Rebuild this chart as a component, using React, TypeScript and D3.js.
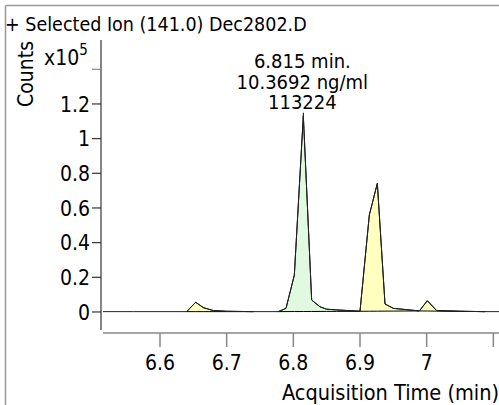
import React from 'react';
import * as d3 from 'd3';

// chromatogram trace, time in min, abundance in counts
const times = [6.5145, 6.56, 6.6, 6.64, 6.6535, 6.665, 6.68, 6.7, 6.74, 6.7775, 6.789, 6.8015, 6.815, 6.8275, 6.84, 6.85, 6.865, 6.9, 6.914, 6.926, 6.9375, 6.95, 6.989, 7.001, 7.015, 7.05, 7.0875, 7.1085];
const counts = [200, 200, 200, 200, 5600, 2500, 800, 400, 200, 200, 2100, 21300, 113224, 6900, 3000, 1600, 1200, 400, 56000, 74200, 4600, 2100, 600, 6500, 800, 400, 200, 200];

// integrated peaks [start, end]
const peakStarts = [6.64, 6.7775, 6.9, 6.989];
const peakEnds = [6.74, 6.9, 6.989, 7.0875];
const peakKinds = ['other', 'target', 'other', 'other'];

const xTicks = [6.6, 6.7, 6.8, 6.9, 7, 7.1];
const xTickLabels = ['6.6', '6.7', '6.8', '6.9', '7', ''];
const yTicks = [0, 0.2, 0.4, 0.6, 0.8, 1, 1.2, 1.4];
const yTickLabels = ['0', '0.2', '0.4', '0.6', '0.8', '1', '1.2', ''];

const title = '+ Selected Ion (141.0) Dec2802.D';
const apexTime = 6.815;
const apexCounts = 113224;
const apexLabels = ['6.815 min.', '10.3692 ng/ml', '113224'];

const fills: Record<string, string> = { target: '#e0f9e0', other: '#ffffc0' };
const font = "'DejaVu Sans Condensed', 'DejaVu Sans', sans-serif";

export default function App() {
    const width = 499;
    const height = 405;
    const x = d3.scaleLinear().domain([6.5145, 7.1085]).range([103, 499]);
    const y = d3.scaleLinear().domain([-0.104, 1.569]).range([330, 40]);

    const pts = times.map((t, i) => [t, counts[i] / 1e5] as [number, number]);
    const line = d3.line<[number, number]>().x(d => x(d[0])).y(d => y(d[1]));

    const peaks = peakStarts.map((s, i) => {
        const e = peakEnds[i];
        const seg = pts.filter(p => p[0] >= s - 1e-9 && p[0] <= e + 1e-9);
        const v0 = seg[0][1];
        const v1 = seg[seg.length - 1][1];
        const base = (t: number) => v0 + (v1 - v0) * (t - s) / (e - s);
        const area = d3.area<[number, number]>()
            .x(d => x(d[0]))
            .y0(d => y(base(d[0])))
            .y1(d => y(d[1]));
        return { d: area(seg) as string, kind: peakKinds[i] };
    });

    return (
        <svg width={width} height={height} style={{ position: 'absolute', left: 0, top: 0, fontFamily: font }}>
            <rect width={width} height={height} fill="#fff" />
            {/* frame */}
            <line x1={5.5} x2={width} y1={5.5} y2={5.5} stroke="#999" strokeWidth={1.5} />
            <line x1={5.5} x2={5.5} y1={5.5} y2={height} stroke="#999" strokeWidth={1.5} />

            <text x={5} y={31} fontSize={19.5}>{title}</text>

            {/* y axis */}
            <line x1={101} x2={101} y1={40} y2={330} stroke="#333" strokeWidth={1.2} />
            {yTicks.map((t, i) => (
                <g key={t}>
                    <line x1={92} x2={101} y1={y(t)} y2={y(t)} stroke={i === yTicks.length - 1 ? '#888' : '#333'} strokeWidth={1.2} />
                    <text x={90} y={y(t)} dy="0.36em" textAnchor="end" fontSize={21}>{yTickLabels[i]}</text>
                </g>
            ))}
            <text x={44} y={65} fontSize={21}>x10<tspan dy={-10} fontSize={15}>5</tspan></text>
            <text transform="translate(33,74) rotate(-90)" textAnchor="middle" fontSize={21}>Counts</text>

            {/* x axis */}
            <line x1={103} x2={width} y1={333} y2={333} stroke="#888" strokeWidth={1.5} />
            {xTicks.map((t, i) => (
                <g key={t}>
                    <line x1={x(t)} x2={x(t)} y1={333} y2={347} stroke="#888" strokeWidth={1.5} />
                    <text x={x(t)} y={370} textAnchor="middle" fontSize={21}>{xTickLabels[i]}</text>
                </g>
            ))}
            <text x={499} y={400} textAnchor="end" fontSize={21.5}>Acquisition Time (min)</text>

            {/* peaks */}
            {peaks.map((p, i) => (
                <path key={i} d={p.d} fill={fills[p.kind]} stroke="#000" strokeWidth={1} strokeLinejoin="round" />
            ))}
            <path d={line(pts) as string} fill="none" stroke="#222" strokeWidth={1} />

            {/* apex annotation */}
            <line x1={x(apexTime)} x2={x(apexTime)} y1={y(apexCounts / 1e5)} y2={y(apexCounts / 1e5) - 3} stroke="#000" />
            {apexLabels.map((s, i) => (
                <text key={i} x={x(apexTime) - 1} y={68 + i * 20.5} textAnchor="middle" fontSize={20}>{s}</text>
            ))}
        </svg>
    );
}
